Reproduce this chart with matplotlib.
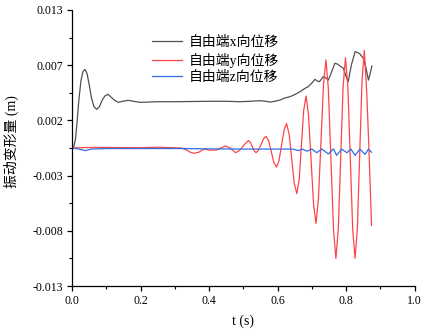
import numpy as np
import matplotlib
matplotlib.use("Agg")
import matplotlib.pyplot as plt
from matplotlib.ticker import FixedLocator

plt.rcParams['font.family'] = ['Liberation Serif', 'Noto Sans CJK SC']
plt.rcParams['axes.unicode_minus'] = False

# free-end displacement, x direction
t_x = [0.000, 0.005, 0.010, 0.015, 0.020, 0.026, 0.032, 0.038, 0.044, 0.050,
       0.057, 0.064, 0.072, 0.080, 0.088, 0.096, 0.105, 0.114, 0.124, 0.135,
       0.148, 0.164, 0.180, 0.198, 0.250, 0.300, 0.350, 0.400, 0.450, 0.490,
       0.520, 0.549, 0.565, 0.578, 0.592, 0.607, 0.620, 0.636, 0.648, 0.660,
       0.670, 0.680, 0.690, 0.699, 0.709, 0.716, 0.722, 0.733, 0.741, 0.748,
       0.758, 0.767, 0.775, 0.782, 0.792, 0.799, 0.806, 0.815, 0.826, 0.833,
       0.840, 0.852, 0.858, 0.865, 0.870, 0.875]
disp_x = [0.0, 0.0001, 0.0008, 0.0025, 0.0045, 0.0063, 0.0072, 0.0074, 0.0070, 0.0060,
          0.0047, 0.0039, 0.00364, 0.0039, 0.0045, 0.0049, 0.00506, 0.0048, 0.0045, 0.0043,
          0.0044, 0.00449, 0.0044, 0.0043, 0.00436, 0.00436, 0.00438, 0.0044, 0.0044, 0.00436,
          0.0044, 0.00446, 0.0044, 0.00433, 0.0044, 0.00452, 0.0047, 0.00483, 0.0050, 0.00521,
          0.0054, 0.00562, 0.0058, 0.00609, 0.00647, 0.0063, 0.00625, 0.00672, 0.0066, 0.0064,
          0.0072, 0.00798, 0.0079, 0.00772, 0.0075, 0.0068, 0.00625, 0.0078, 0.00907, 0.0090,
          0.00886, 0.00836, 0.0075, 0.0064, 0.0070, 0.00772]

# free-end displacement, y direction
t_y = [0.000, 0.050, 0.100, 0.200, 0.253, 0.320, 0.335, 0.345, 0.357, 0.370,
       0.385, 0.400, 0.420, 0.435, 0.447, 0.462, 0.477, 0.486, 0.495, 0.505,
       0.515, 0.5205, 0.526, 0.5315, 0.537, 0.544, 0.5515, 0.559, 0.566, 0.574,
       0.5815, 0.589, 0.597, 0.604, 0.6115, 0.619, 0.626, 0.6335, 0.641, 0.6485,
       0.656, 0.663, 0.6695, 0.676, 0.683, 0.690, 0.6975, 0.705, 0.712, 0.719,
       0.7265, 0.734, 0.741, 0.748, 0.7555, 0.763, 0.770, 0.777, 0.784, 0.791,
       0.798, 0.805, 0.812, 0.819, 0.826, 0.83275, 0.8395, 0.84625, 0.853, 0.860,
       0.866, 0.870, 0.874]
disp_y = [0.0, 0.00005, 0.00005, 0.00003, 0.00007, 0.0, -0.0002, -0.0004, -0.0005, -0.0004,
          -0.0001, -0.0002, -0.0002, 0.0, 0.0002, 0.0, -0.00044, -0.0003, 0.0, 0.0004,
          0.0007, 0.00053, 0.00013, -0.00027, -0.00044, -0.00022, 0.00033, 0.00088, 0.0011, 0.00068,
          -0.00035, -0.00138, -0.0018, -0.0012, 0.00025, 0.0017, 0.0023, 0.00134, -0.001, -0.00334,
          -0.0043, -0.00296, 0.0003, 0.00356, 0.0049, 0.00315, -0.0011, -0.00535, -0.0071, -0.00485,
          0.0006, 0.00605, 0.0083, 0.00557, -0.00105, -0.00767, -0.0104, -0.00764, -0.00095, 0.00574,
          0.0085, 0.00574, -0.00095, -0.00764, -0.0104, -0.00754, -0.0006, 0.00634, 0.0092, 0.0052,
          0.0003, -0.0035, -0.0073]

# free-end displacement, z direction
t_z = [0.000, 0.020, 0.039, 0.055, 0.100, 0.200, 0.300, 0.400, 0.500, 0.600,
       0.620, 0.645, 0.660, 0.672, 0.686, 0.700, 0.714, 0.729, 0.748, 0.763,
       0.772, 0.787, 0.802, 0.814, 0.826, 0.840, 0.855, 0.865, 0.874]
disp_z = [0.0, -0.0001, -0.00025, -0.0001, -0.00005, -0.00005, -0.00005, -0.00008, -0.0001, -0.0001,
          -0.0001, -0.0001, -0.00025, -0.0001, -0.0003, -0.0001, -0.00044, -0.0001, -0.00056, -0.00008,
          -0.0007, -0.0001, -0.00045, -0.0001, -0.0007, -0.0001, -0.0006, -0.0001, -0.0004]

labels = ['自由端x向位移', '自由端y向位移', '自由端z向位移']
colors = ['#505050', '#ff4545', '#2f6fe8']

y_ticks = np.linspace(-0.013, 0.013, 6)
y_tick_labels = ['-0.013', '-0.008', '-0.003', '0.002', '0.007', '0.013']

fig = plt.figure(figsize=(4.25, 3.33), dpi=100)
ax = fig.add_axes([0.1694, 0.1411, 0.8064, 0.8289])

ax.plot(t_x, disp_x, color=colors[0], lw=0.9, label=labels[0])
ax.plot(t_y, disp_y, color=colors[1], lw=0.9, label=labels[1])
ax.plot(t_z, disp_z, color=colors[2], lw=0.9, label=labels[2])

ax.set_xlim(0, 1.0)
ax.set_ylim(-0.013, 0.013)
ax.set_xticks(np.arange(0, 1.01, 0.2))
ax.set_xticklabels([f"{v:.1f}" for v in np.arange(0, 1.01, 0.2)])
ax.xaxis.set_minor_locator(FixedLocator(np.arange(0.1, 1.0, 0.2)))
ax.set_yticks(y_ticks)
ax.set_yticklabels(y_tick_labels)
ax.yaxis.set_minor_locator(FixedLocator((y_ticks[:-1] + y_ticks[1:]) / 2))

for side in ['top', 'right']:
    ax.spines[side].set_visible(False)
for side in ['left', 'bottom']:
    ax.spines[side].set_linewidth(0.9)
ax.tick_params(which='major', direction='out', length=3.5, width=0.9, labelsize=8.5, pad=3)
ax.tick_params(which='minor', direction='out', length=2, width=0.8)

ax.set_xlabel('t (s)', fontsize=10)
ax.set_ylabel('振动变形量 (m)', fontsize=10)
ax.xaxis.set_label_coords(0.5, -0.105)
ax.yaxis.set_label_coords(-0.156, 0.522)

ax.legend(loc='upper left', bbox_to_anchor=(0.232, 0.905), frameon=False,
          fontsize=10, handlelength=2.2, handletextpad=0.45,
          labelspacing=0.25, borderaxespad=0, borderpad=0)

fig.savefig('out.png', dpi=100)
